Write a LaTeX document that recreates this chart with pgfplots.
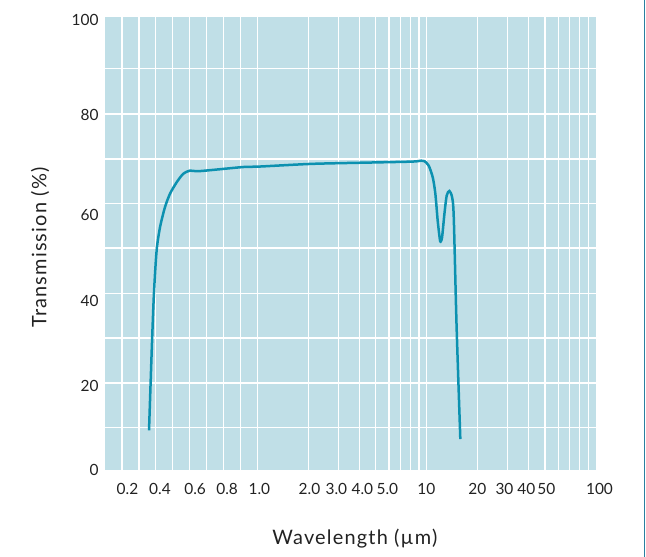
\documentclass[border=0pt]{standalone}
\usepackage{pgfplots}
\pgfplotsset{compat=1.18}
\usepackage{fontspec}
\setmainfont{Lato}
\newfontfamily\labelfont[LetterSpace=6]{Lato}
\definecolor{panel}{HTML}{C0DFE7}
\definecolor{curve}{HTML}{0C91B0}
\definecolor{edge}{HTML}{2A7FA0}
\definecolor{txt}{HTML}{222222}
\begin{document}
\begin{tikzpicture}
\begin{axis}[
  name=ax,
  scale only axis,
  width=491bp, height=452.6bp,
  x coord trafo/.code={\pgfmathparse{#1<1 ? #1-1 : log10(#1)}},
  xmin=0.1, xmax=100, ymin=0, ymax=100,
  enlargelimits=false,
  axis background/.style={fill=panel},
  axis line style={draw=none},
  tick style={draw=none},
  major tick length=0pt,
  grid=major,
  major grid style={white, line width=1.3bp},
  xtick={0.2,0.3,0.4,0.5,0.6,0.7,0.8,0.9,1,2,3,4,5,6,7,8,9,10,20,30,40,50,60,70,80,90},
  xticklabels={},
  ytick={9.3,19.2,29.1,39.0,49.0,58.9,68.7,78.6,88.6},
  yticklabels={},
  extra x ticks={0.233,0.425,0.632,0.821,1.027,2.03,2.93,4.17,5.86,9.96,19.93,28.8,38.8,50.9,100},
  extra x tick labels={0.2,0.4,0.6,0.8,1.0,2.0,3.0,4.0,5.0,10,20,30,40,50,\hspace{7bp}100},
  extra x tick style={grid=none},
  extra y ticks={0,18.6,37.4,56.2,78.3,99.3},
  extra y tick labels={0,20,40,60,80,100},
  extra y tick style={grid=none},
  xticklabel style={font=\fontsize{15.5}{17}\selectfont, text=txt, yshift=-9.5bp},
  yticklabel style={font=\fontsize{15.5}{17}\selectfont, text=txt, xshift=-3bp},
  xlabel={Wavelength (µm)},
  ylabel={Transmission (\%)},
  every axis x label/.style={at={(axis description cs:0.509,-0.1518)}, anchor=center, font=\labelfont\fontsize{20}{24}\selectfont, text=txt},
  every axis y label/.style={at={(axis description cs:-0.1324,0.491)}, anchor=center, rotate=90, font=\labelfont\fontsize{20}{24}\selectfont, text=txt},
  clip=false,
]
\addplot[curve, line width=2.5bp, smooth, tension=0.45] coordinates {
(0.360,8.7) (0.376,26.4) (0.389,38.9) (0.405,48.5) (0.425,53.6)
(0.454,58) (0.484,61) (0.523,63.5) (0.562,65.4) (0.602,66.1) (0.661,66.0)
(0.917,66.9) (1.03,67.0) (2.12,67.6) (4.8,67.9) (8.27,68.1) (9.27,68.3)
(9.69,68.2) (10.28,67.2) (10.86,64.6) (11.25,61) (11.61,55.1) (11.95,51.0)
(12.08,50.4) (12.33,51.4) (12.73,56.6) (13.13,60.6) (13.62,61.6) (14.13,60.2)
(14.45,55.8) (15.0,32.3) (15.8,6.8)
};
\end{axis}
\pgfresetboundingbox
\path ([xshift=-105bp,yshift=-86.7bp]ax.south west) rectangle ([xshift=50bp,yshift=16.7bp]ax.north east);
\draw[edge, line width=1bp] ([xshift=48.3bp,yshift=-86.7bp]ax.south east) -- ([xshift=48.3bp,yshift=16.7bp]ax.north east);
\end{tikzpicture}
\end{document}
